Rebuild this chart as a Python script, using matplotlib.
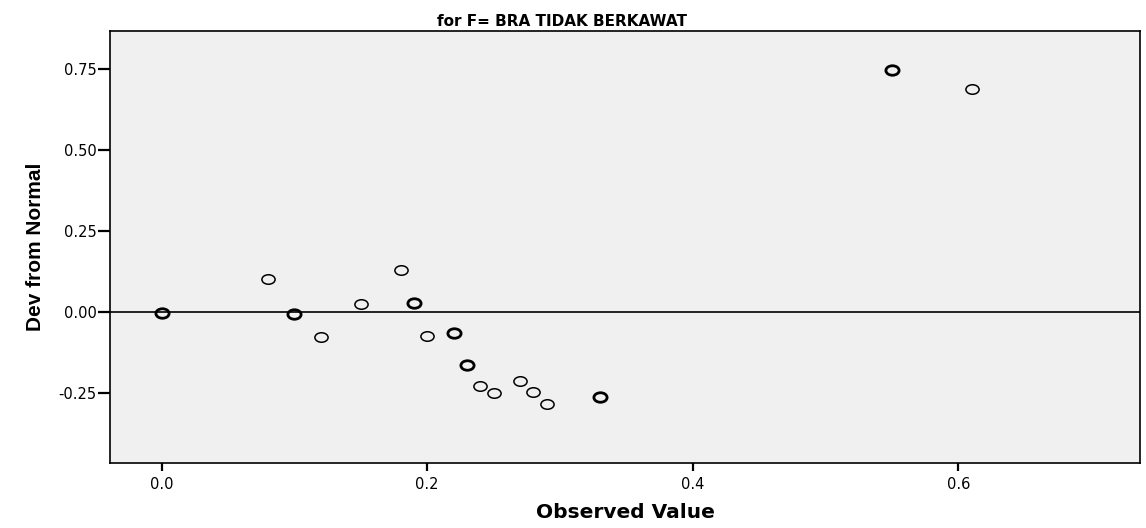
import numpy as np
import matplotlib
matplotlib.use("Agg")
import matplotlib.pyplot as plt
from matplotlib.path import Path
from matplotlib.ticker import FormatStrFormatter

plt.rcParams["font.family"] = ["DejaVu Sans"]
plt.rcParams["axes.unicode_minus"] = False

# observed values and their deviation from normal (tied cases repeated)
observed = [0.00, 0.00, 0.08, 0.10, 0.10, 0.12, 0.15, 0.18, 0.19, 0.19, 0.20,
            0.22, 0.22, 0.23, 0.23, 0.24, 0.25, 0.27, 0.28, 0.29, 0.33, 0.33,
            0.55, 0.55, 0.61]
deviation = [-0.002, -0.002, 0.103, -0.006, -0.006, -0.077, 0.025, 0.130, 0.027, 0.027, -0.074,
             -0.065, -0.065, -0.165, -0.165, -0.229, -0.251, -0.215, -0.247, -0.284, -0.264, -0.264,
             0.748, 0.748, 0.688]
x_ticks = [0.0, 0.2, 0.4, 0.6]
y_ticks = [-0.25, 0.00, 0.25, 0.50, 0.75]
title = "for F= BRA TIDAK BERKAWAT"

# squashed circle marker, as in the exported SPSS chart
circ = Path.unit_circle()
ellipse = Path(circ.vertices * np.array([1.0, 0.72]), circ.codes)

pts = np.array(list(zip(observed, deviation)))
uniq, counts = np.unique(pts, axis=0, return_counts=True)

fig = plt.figure(figsize=(11.46, 5.28), dpi=100)
ax = fig.add_axes([0.096, 0.123, 0.899, 0.818])
ax.set_facecolor("#f0f0f0")

ax.axhline(0, color="black", linewidth=1.2, zorder=1)
for (xv, yv), n in zip(uniq, counts):
    ax.plot(xv, yv, linestyle="none", marker=ellipse, markersize=9.5,
            markerfacecolor="none", markeredgecolor="black",
            markeredgewidth=1.1 if n == 1 else 2.0, zorder=2)

ax.set_xlim(-0.0388, 0.737)
ax.set_ylim(-0.467, 0.867)
ax.set_xticks(x_ticks)
ax.set_yticks(y_ticks)
ax.xaxis.set_major_formatter(FormatStrFormatter("%.1f"))
ax.yaxis.set_major_formatter(FormatStrFormatter("%.2f"))
ax.tick_params(axis="x", direction="out", length=6, width=1.6, labelsize=10.5, pad=4)
ax.tick_params(axis="y", direction="out", length=8.5, width=1.6, labelsize=10.5, pad=1)
for s in ax.spines.values():
    s.set_linewidth(1.2)

fig.text(562 / 1146, 1 - 26 / 528, title, fontsize=11, fontweight="bold",
         ha="center", va="baseline")
ax.set_xlabel("Observed Value", fontsize=14.5, fontweight="bold", labelpad=8)
ax.set_ylabel("Dev from Normal", fontsize=15, fontweight="bold", labelpad=10,
              family=["Liberation Sans", "DejaVu Sans"])

fig.savefig("out.png", dpi=100)
